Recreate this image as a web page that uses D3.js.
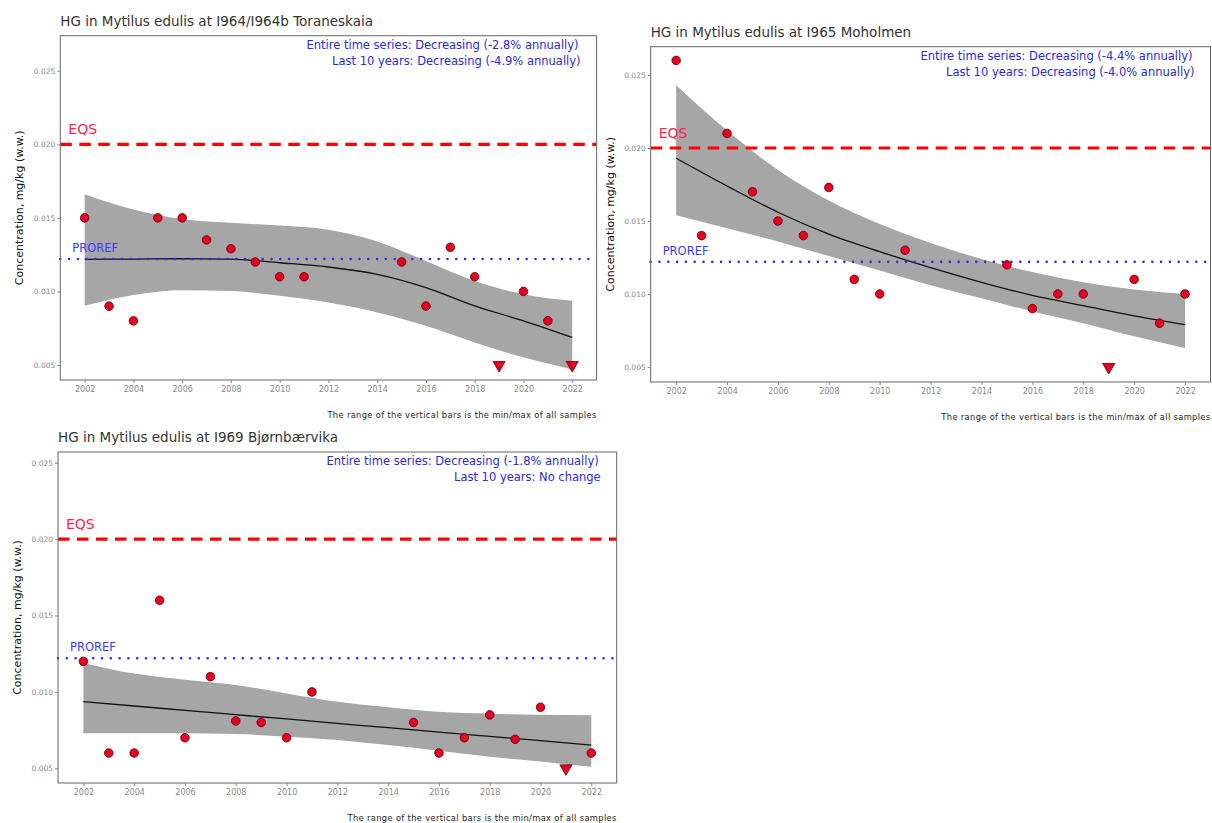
<!DOCTYPE html>
<html><head><meta charset="utf-8">
<script src="https://cdn.jsdelivr.net/npm/d3@7"></script>
<style>body{margin:0;background:#fff;}svg{display:block;font-family:"DejaVu Sans",sans-serif;}</style>
</head><body><svg id="c" width="1212" height="823"></svg>
<script>
// ---------- data ----------
const titles = ["HG in Mytilus edulis at I964/I964b Toraneskaia","HG in Mytilus edulis at I965 Moholmen","HG in Mytilus edulis at I969 Bjørnbærvika"];
const trendLine1 = ["Entire time series: Decreasing (-2.8% annually)","Entire time series: Decreasing (-4.4% annually)","Entire time series: Decreasing (-1.8% annually)"];
const trendLine2 = ["Last 10 years: Decreasing (-4.9% annually)","Last 10 years: Decreasing (-4.0% annually)","Last 10 years: No change"];
const xTicks = [2002,2004,2006,2008,2010,2012,2014,2016,2018,2020,2022];
const yTicks = [0.005,0.010,0.015,0.020,0.025];
const EQS = 0.020, PROREF = 0.0122;

const years1 = [2002,2003,2004,2005,2006,2007,2008,2009,2010,2011,2015,2016,2017,2018,2020,2021];
const hg1    = [0.015,0.009,0.008,0.015,0.015,0.0135,0.0129,0.012,0.011,0.011,0.012,0.009,0.013,0.011,0.010,0.008];
const lessYears1 = [2019,2022];
const lessHg1    = [0.005,0.005];

const years2 = [2002,2003,2004,2005,2006,2007,2008,2009,2010,2011,2015,2016,2017,2018,2020,2021,2022];
const hg2    = [0.026,0.014,0.021,0.017,0.015,0.014,0.0173,0.011,0.010,0.013,0.012,0.009,0.010,0.010,0.011,0.008,0.010];
const lessYears2 = [2019];
const lessHg2    = [0.005];

const years3 = [2002,2003,2004,2005,2006,2007,2008,2009,2010,2011,2015,2016,2017,2018,2019,2020,2022];
const hg3    = [0.012,0.006,0.006,0.016,0.007,0.011,0.0081,0.008,0.007,0.010,0.008,0.006,0.007,0.0085,0.0069,0.009,0.006];
const lessYears3 = [2021];
const lessHg3    = [0.005];

const trendYears = [2002,2004,2006,2008,2010,2012,2014,2016,2018,2020,2022];
const fit1 = [0.01218,0.0122,0.01222,0.0122,0.01195,0.01166,0.01116,0.01026,0.00902,0.0080,0.00687];
const hi1  = [0.0166,0.01556,0.0149,0.01466,0.01448,0.0142,0.0134,0.01207,0.01071,0.0098,0.00936];
const lo1  = [0.00902,0.00976,0.01008,0.01003,0.0097,0.00924,0.00857,0.00766,0.00653,0.00552,0.0047];
const fit2 = [0.0193,0.0174,0.0156,0.0141,0.0129,0.0118,0.0108,0.0099,0.0092,0.0085,0.0079];
const hi2  = [0.0243,0.0212,0.0185,0.0164,0.0148,0.0135,0.0124,0.0115,0.0108,0.0103,0.0100];
const lo2  = [0.0154,0.0145,0.0136,0.0126,0.0116,0.0106,0.0097,0.0088,0.0080,0.0071,0.0063];
const fit3 = [0.00936,0.00908,0.00879,0.00851,0.00823,0.00794,0.00766,0.00737,0.00709,0.00681,0.00652];
const hi3  = [0.0119,0.0112,0.0108,0.01045,0.0099,0.00936,0.0090,0.0087,0.00857,0.0085,0.00847];
const lo3  = [0.00729,0.00729,0.00729,0.00725,0.00707,0.00685,0.00652,0.00615,0.00576,0.00544,0.0051];

// ---------- layout ----------
const panels = [
  {x0:60.3, x1:596.6, y0:35.7, y1:380, yDom:[0.00398,0.02738], years:years1, hg:hg1, ly:lessYears1, lh:lessHg1, fit:fit1, hi:hi1, lo:lo1},
  {x0:650.7,x1:1210.5,y0:46.7, y1:382, yDom:[0.00397,0.02694], years:years2, hg:hg2, ly:lessYears2, lh:lessHg2, fit:fit2, hi:hi2, lo:lo2},
  {x0:58,   x1:616.7, y0:452,  y1:783, yDom:[0.00404,0.0257],  years:years3, hg:hg3, ly:lessYears3, lh:lessHg3, fit:fit3, hi:hi3, lo:lo3}
];

const svg = d3.select("#c");
panels.forEach((p,i)=>{
  const x = d3.scaleLinear().domain([2001,2023]).range([p.x0,p.x1]);
  const y = d3.scaleLinear().domain(p.yDom).range([p.y1,p.y0]);
  const g = svg.append("g");

  g.append("text").attr("x",p.x0).attr("y",p.y0-10).attr("font-size",13.5).attr("fill","#333").text(titles[i]);

  g.append("text").attr("transform",`translate(${p.x0-37},${(p.y0+p.y1)/2}) rotate(-90)`)
    .attr("text-anchor","middle").attr("font-size",11).attr("fill","#111").text("Concentration, mg/kg (w.w.)");

  const idx = d3.range(trendYears.length);
  g.append("path").datum(idx)
    .attr("d", d3.area().x(k=>x(trendYears[k])).y0(k=>y(p.lo[k])).y1(k=>y(p.hi[k])).curve(d3.curveMonotoneX))
    .attr("fill","#a6a6a6");
  g.append("path").datum(idx)
    .attr("d", d3.line().x(k=>x(trendYears[k])).y(k=>y(p.fit[k])).curve(d3.curveMonotoneX))
    .attr("fill","none").attr("stroke","#111").attr("stroke-width",1.3);

  g.append("line").attr("x1",p.x0).attr("x2",p.x1).attr("y1",y(EQS)).attr("y2",y(EQS))
    .attr("stroke","#ff0000").attr("stroke-width",3.2).attr("stroke-dasharray","11.5,7.5");
  g.append("text").attr("x",p.x0+8).attr("y",y(EQS)-10).attr("font-size",14).attr("fill","#ff1f4f").text("EQS");
  g.append("line").attr("x1",p.x0).attr("x2",p.x1).attr("y1",y(PROREF)).attr("y2",y(PROREF))
    .attr("stroke","#2b2bff").attr("stroke-width",2.6).attr("stroke-linecap","round").attr("stroke-dasharray","0,8.8");
  g.append("text").attr("x",p.x0+12).attr("y",y(PROREF)-7).attr("font-size",11.5).attr("fill","#3a3aff").text("PROREF");

  g.selectAll("circle.pt").data(d3.range(p.years.length)).join("circle")
    .attr("cx",k=>x(p.years[k])).attr("cy",k=>y(p.hg[k])).attr("r",4.3)
    .attr("fill","#e8001e").attr("stroke","#5a0010").attr("stroke-width",0.8);
  const tri = d3.symbol().type(d3.symbolTriangle).size(64);
  g.selectAll("path.lt").data(d3.range(p.ly.length)).join("path")
    .attr("transform",k=>`translate(${x(p.ly[k])},${y(p.lh[k])}) rotate(180)`)
    .attr("d",tri).attr("fill","#e8001e").attr("stroke","#5a0010").attr("stroke-width",0.8);

  g.append("rect").attr("x",p.x0).attr("y",p.y0).attr("width",p.x1-p.x0).attr("height",p.y1-p.y0)
    .attr("fill","none").attr("stroke","#666").attr("stroke-width",1);

  const ya = g.append("g").attr("transform",`translate(${p.x0},0)`)
    .call(d3.axisLeft(y).tickValues(yTicks).tickFormat(d3.format(".3f")).tickSize(3).tickPadding(2));
  ya.select(".domain").remove();
  ya.selectAll("text").attr("font-size",7.5).attr("fill","#888").attr("font-family","DejaVu Sans");
  ya.selectAll("line").attr("stroke","#888");
  const xa = g.append("g").attr("transform",`translate(0,${p.y1})`)
    .call(d3.axisBottom(x).tickValues(xTicks).tickFormat(d3.format("d")).tickSize(3).tickPadding(3));
  xa.select(".domain").remove();
  xa.selectAll("text").attr("font-size",8).attr("fill","#888").attr("font-family","DejaVu Sans");
  xa.selectAll("line").attr("stroke","#888");

  g.append("text").attr("x",p.x1-18).attr("y",p.y0+13).attr("text-anchor","end").attr("font-size",11.5).attr("fill","#2a2ae0").text(trendLine1[i]);
  g.append("text").attr("x",p.x1-16).attr("y",p.y0+29).attr("text-anchor","end").attr("font-size",11.5).attr("fill","#2a2ae0").text(trendLine2[i]);

  g.append("text").attr("x",p.x1).attr("y",p.y1+38).attr("text-anchor","end").attr("font-size",8.3).attr("fill","#222")
    .attr("letter-spacing",0.35).text("The range of the vertical bars is the min/max of all samples");
});
</script></body></html>
